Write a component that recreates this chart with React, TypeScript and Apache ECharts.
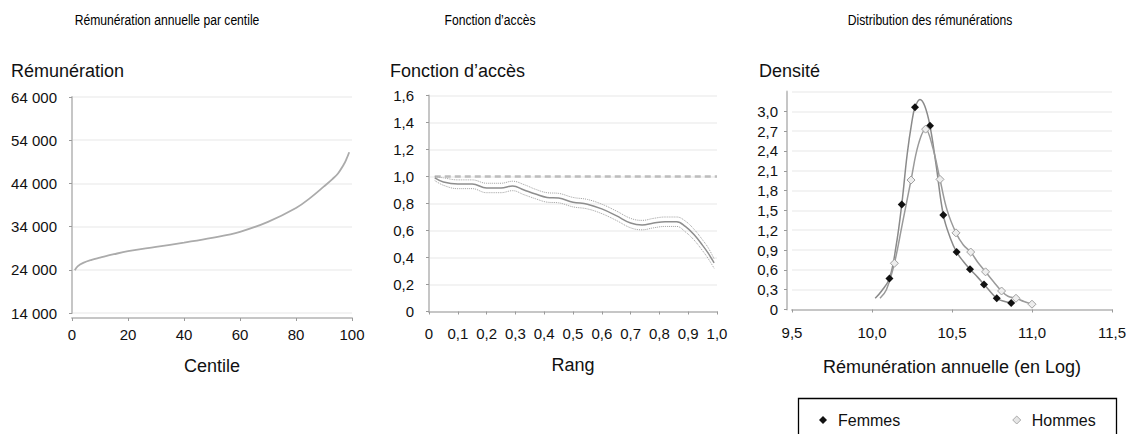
import React, { useEffect, useRef } from 'react';
import * as echarts from 'echarts';

const FONT = '"Liberation Sans", Arial, Helvetica, sans-serif';

// Panel 1 : rémunération annuelle par centile
const centiles = [1, 2, 4, 7, 10, 15, 20, 30, 40, 50, 60, 70, 80, 85, 90, 93, 95, 97, 98, 99];
const remunerations = [23900, 24800, 25600, 26300, 26800, 27600, 28300, 29300, 30300, 31400, 32800, 35100, 38300, 40600, 43300, 45000, 46300, 48300, 49600, 51200];

// Panel 2 : fonction d'accès
const rangs = [0.02, 0.05, 0.1, 0.15, 0.2, 0.25, 0.29, 0.33, 0.37, 0.41, 0.45, 0.5, 0.55, 0.6, 0.65, 0.7, 0.74, 0.78, 0.82, 0.86, 0.89, 0.92, 0.95, 0.97, 0.99];
const accesCentre = [0.99, 0.96, 0.945, 0.945, 0.915, 0.915, 0.93, 0.9, 0.87, 0.845, 0.84, 0.81, 0.795, 0.76, 0.71, 0.655, 0.64, 0.655, 0.665, 0.665, 0.63, 0.57, 0.49, 0.43, 0.36];
const accesHaut = [1.0, 0.99, 0.975, 0.975, 0.95, 0.95, 0.965, 0.94, 0.905, 0.88, 0.875, 0.845, 0.83, 0.795, 0.745, 0.69, 0.675, 0.69, 0.7, 0.7, 0.67, 0.61, 0.53, 0.47, 0.39];
const accesBas = [0.97, 0.935, 0.91, 0.91, 0.88, 0.88, 0.895, 0.865, 0.835, 0.81, 0.805, 0.775, 0.76, 0.725, 0.675, 0.62, 0.605, 0.62, 0.63, 0.63, 0.59, 0.53, 0.45, 0.39, 0.32];
const referenceRang = [0.02, 1.0];
const referenceAcces = [1.0, 1.0];

// Panel 3 : distribution des rémunérations (log)
const logFemmes = [10.02, 10.06, 10.109, 10.15, 10.186, 10.22, 10.25, 10.269, 10.3, 10.33, 10.3625, 10.4, 10.446, 10.49, 10.529, 10.57, 10.6125, 10.66, 10.7, 10.74, 10.78, 10.83, 10.87];
const densiteFemmes = [0.17, 0.28, 0.47, 0.95, 1.59, 2.35, 2.85, 3.06, 3.18, 3.08, 2.78, 2.2, 1.43, 1.08, 0.87, 0.73, 0.61, 0.49, 0.38, 0.27, 0.17, 0.12, 0.1];
const marqueFemmes = [0, 0, 1, 0, 1, 0, 0, 1, 0, 0, 1, 0, 1, 0, 1, 0, 1, 0, 1, 0, 1, 0, 1];
const logHommes = [10.05, 10.09, 10.14, 10.19, 10.244, 10.29, 10.335, 10.38, 10.425, 10.47, 10.525, 10.57, 10.617, 10.66, 10.71, 10.76, 10.81, 10.85, 10.9, 10.95, 11.0];
const densiteHommes = [0.17, 0.3, 0.7, 1.3, 1.96, 2.5, 2.73, 2.45, 1.97, 1.5, 1.16, 0.98, 0.87, 0.72, 0.57, 0.42, 0.28, 0.2, 0.17, 0.12, 0.08];
const marqueHommes = [0, 0, 1, 0, 1, 0, 1, 0, 1, 0, 1, 0, 1, 0, 1, 0, 1, 0, 1, 0, 1];

const milliers = (v: number) => String(Math.round(v)).replace(/\B(?=(\d{3})+(?!\d))/g, ' ');
const decimal = (v: number) => (Math.abs(v) < 1e-9 ? '0' : v.toFixed(1).replace('.', ','));

const axisLine = { show: true, lineStyle: { color: '#c6c6c6', width: 2 } };
const axisTick = { show: true, length: 3, lineStyle: { color: '#9a9a9a', width: 1 } };
const splitLine = { show: true, lineStyle: { color: '#efefef', width: 1.5 } };
const labelStyle = { color: '#111', fontSize: 15, fontFamily: FONT };
const nameStyle = { color: '#111', fontSize: 18, fontFamily: FONT };

export default function App() {
  const ref = useRef<HTMLDivElement>(null);

  useEffect(() => {
    if (!ref.current) return;
    const chart = echarts.init(ref.current, null, { renderer: 'svg' });

    const topTitle = (text: string, x: number) => ({
      type: 'text',
      x,
      y: 20,
      scaleX: 0.81,
      style: { text, fontSize: 15, fontFamily: FONT, fill: '#000', textAlign: 'center', textVerticalAlign: 'middle' },
    });
    const yName = (text: string, x: number, y: number) => ({
      type: 'text',
      x,
      y,
      style: { text, fontSize: 18, fontFamily: FONT, fill: '#111', textAlign: 'left', textVerticalAlign: 'middle' },
    });

    chart.setOption({
      animation: false,
      backgroundColor: '#fff',
      textStyle: { fontFamily: FONT },
      grid: [
        { left: 72, top: 97, width: 280, height: 216 },
        { left: 429, top: 95.5, width: 288, height: 216 },
        { left: 792, top: 91.5, width: 320, height: 218 },
      ],
      xAxis: [
        {
          gridIndex: 0, type: 'value', min: 0, max: 100, interval: 20, offset: 5,
          name: 'Centile', nameLocation: 'middle', nameGap: 39, nameTextStyle: nameStyle,
          axisLine, axisTick, splitLine: { show: false },
          axisLabel: { ...labelStyle, margin: 9 },
        },
        {
          gridIndex: 1, type: 'value', min: 0, max: 1, interval: 0.1, offset: 5,
          name: 'Rang', nameLocation: 'middle', nameGap: 39, nameTextStyle: nameStyle,
          axisLine, axisTick, splitLine: { show: false },
          axisLabel: { ...labelStyle, margin: 9, formatter: decimal },
        },
        {
          gridIndex: 2, type: 'value', min: 9.5, max: 11.5, interval: 0.5, offset: 4,
          name: 'Rémunération annuelle (en Log)', nameLocation: 'middle', nameGap: 44, nameTextStyle: nameStyle,
          axisLine, axisTick, splitLine: { show: false },
          axisLabel: { ...labelStyle, margin: 11, formatter: decimal },
        },
      ],
      yAxis: [
        {
          gridIndex: 0, type: 'value', min: 14000, max: 64000, interval: 10000, offset: 5,
          axisLine, axisTick, splitLine,
          axisLabel: { ...labelStyle, margin: 10, formatter: milliers },
        },
        {
          gridIndex: 1, type: 'value', min: 0, max: 1.6, interval: 0.2, offset: 8,
          axisLine, axisTick, splitLine,
          axisLabel: { ...labelStyle, margin: 7, formatter: decimal },
        },
        {
          gridIndex: 2, type: 'value', min: 0, max: 3.3, interval: 0.3, offset: 5,
          axisLine, axisTick, splitLine,
          axisLabel: { ...labelStyle, margin: 9, formatter: decimal, showMaxLabel: false },
        },
      ],
      legend: {
        left: 814,
        top: 407,
        itemGap: 112,
        itemWidth: 8,
        itemHeight: 8,
        textStyle: { color: '#111', fontSize: 16, fontFamily: FONT, padding: [0, 0, 0, 6] },
        data: [
          { name: 'Femmes', icon: 'diamond', itemStyle: { color: '#111', borderWidth: 0 } },
          { name: 'Hommes', icon: 'diamond', itemStyle: { color: '#e6e6e6', borderColor: '#aaaaaa', borderWidth: 1 } },
        ],
      },
      graphic: [
        topTitle('Rémunération annuelle par centile', 167),
        topTitle('Fonction d’accès', 490),
        topTitle('Distribution des rémunérations', 930),
        yName('Rémunération', 11, 71),
        yName('Fonction d’accès', 390, 71),
        yName('Densité', 759, 71),
        {
          type: 'rect',
          shape: { x: 798.5, y: 398.5, width: 318, height: 50 },
          style: { fill: 'none', stroke: '#000', lineWidth: 1.3 },
        },
      ],
      series: [
        {
          name: 'Centiles', type: 'line', xAxisIndex: 0, yAxisIndex: 0,
          data: centiles.map((c, i) => [c, remunerations[i]]),
          smooth: 0.4, symbol: 'none',
          lineStyle: { color: '#ababab', width: 1.8 },
        },
        {
          name: 'Référence', type: 'line', xAxisIndex: 1, yAxisIndex: 1,
          data: referenceRang.map((r, i) => [r, referenceAcces[i]]),
          symbol: 'none',
          lineStyle: { color: '#bdbdbd', width: 2.5, type: [6, 4] },
        },
        {
          name: 'Borne haute', type: 'line', xAxisIndex: 1, yAxisIndex: 1,
          data: rangs.map((r, i) => [r, accesHaut[i]]),
          smooth: 0.4, symbol: 'none',
          lineStyle: { color: '#a0a0a0', width: 1, type: 'dotted' },
        },
        {
          name: 'Accès', type: 'line', xAxisIndex: 1, yAxisIndex: 1,
          data: rangs.map((r, i) => [r, accesCentre[i]]),
          smooth: 0.4, symbol: 'none',
          lineStyle: { color: '#8e8e8e', width: 1.5 },
        },
        {
          name: 'Borne basse', type: 'line', xAxisIndex: 1, yAxisIndex: 1,
          data: rangs.map((r, i) => [r, accesBas[i]]),
          smooth: 0.4, symbol: 'none',
          lineStyle: { color: '#a0a0a0', width: 1, type: 'dotted' },
        },
        {
          name: 'Femmes', type: 'line', xAxisIndex: 2, yAxisIndex: 2,
          data: logFemmes.map((x, i) => ({
            value: [x, densiteFemmes[i]],
            symbol: marqueFemmes[i] ? 'diamond' : 'none',
          })),
          smooth: 0.4, showAllSymbol: true, symbolSize: 8,
          itemStyle: { color: '#111', borderWidth: 0 },
          lineStyle: { color: '#8a8a8a', width: 1.5 },
        },
        {
          name: 'Hommes', type: 'line', xAxisIndex: 2, yAxisIndex: 2,
          data: logHommes.map((x, i) => ({
            value: [x, densiteHommes[i]],
            symbol: marqueHommes[i] ? 'diamond' : 'none',
          })),
          smooth: 0.4, showAllSymbol: true, symbolSize: 8,
          itemStyle: { color: '#eeeeee', borderColor: '#a0a0a0', borderWidth: 1 },
          lineStyle: { color: '#9a9a9a', width: 1.5 },
        },
      ],
    });

    return () => chart.dispose();
  }, []);

  return (
    <div
      ref={ref}
      style={{ position: 'fixed', left: 0, top: 0, width: 1129, height: 434, background: '#fff' }}
    />
  );
}
